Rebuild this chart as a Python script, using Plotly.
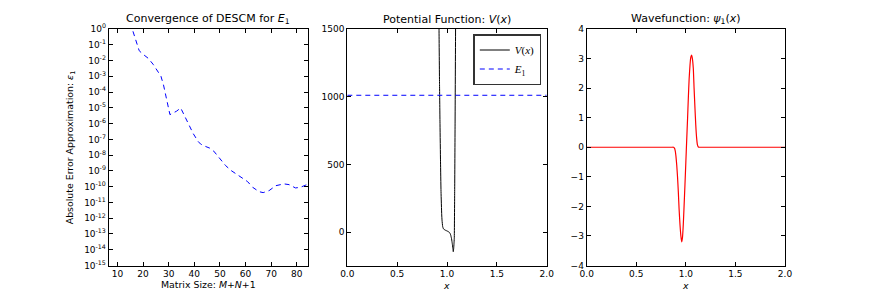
import plotly.graph_objects as go

# ---- Data ----
# Panel 1: convergence of DESCM for E1
conv_size = [15, 16, 17, 18, 18.5, 20, 22, 24, 26, 27, 28, 29, 30.5, 32, 33, 34.7,
             36.4, 38, 39.6, 41.5, 42.5, 44.5, 46, 47.6, 49.9, 52.2, 54.4, 56.3,
             58.3, 60.8, 62.8, 65.3, 66.9, 69.2, 71.8, 75, 77, 79.5, 81.4, 83.4, 84.2]
conv_err = [2.5, 0.83, 0.28, 0.078, 0.042, 0.025, 0.014, 5.6e-3, 1.6e-3, 1.0e-3,
            2.8e-4, 4.5e-5, 3.7e-6, 5.0e-6, 6.0e-6, 9.8e-6, 2.6e-6, 7.8e-7, 2.3e-7,
            7.4e-8, 5.0e-8, 3.5e-8, 2.8e-8, 1.8e-8, 5.8e-9, 2.2e-9, 1.05e-9, 6.5e-10,
            4.4e-10, 2.1e-10, 9.1e-11, 4.8e-11, 4.2e-11, 5.6e-11, 1.15e-10, 1.5e-10,
            1.35e-10, 8.3e-11, 9.1e-11, 1.3e-10, 1.4e-10]

# Panel 2: potential function and energy level
pot_x = [0.905, 0.91, 0.915, 0.92, 0.925, 0.93, 0.935, 0.94, 0.947, 0.95, 0.957,
         0.965, 0.98, 0.99, 1.0, 1.013, 1.025, 1.032, 1.037, 1.045, 1.05, 1.055,
         1.06, 1.063, 1.067, 1.07, 1.073, 1.077, 1.081, 1.086, 1.09]
pot_v = [3500, 2600, 2000, 1500, 1100, 792, 520, 300, 128, 90, 41,
         25, 17, 13, 10, 5, -2, -10, -20, -45, -69, -95,
         -125, -143, -120, -85, -44, 300, 800, 1500, 2200]
energy_e1 = 1011

# Panel 3: wavefunction psi_1
wave_x = [0.0, 0.4, 0.7, 0.82, 0.86, 0.875, 0.885, 0.893, 0.9, 0.908, 0.916, 0.924,
          0.932, 0.941, 0.95, 0.958, 0.966, 0.974, 0.982, 0.991, 1.0, 1.008, 1.017,
          1.025, 1.033, 1.042, 1.05, 1.058, 1.066, 1.075, 1.083, 1.092, 1.1, 1.109,
          1.117, 1.126, 1.135, 1.15, 1.2, 1.4, 1.7, 2.0]
wave_psi = [0, 0, 0, 0, 0, 0, -0.03, -0.12, -0.3, -0.6, -1.0, -1.5,
            -2.1, -2.62, -3.0, -3.2, -3.05, -2.62, -2.0, -1.27, -0.5, 0.19, 0.95,
            1.66, 2.3, 2.78, 3.05, 3.12, 3.0, 2.67, 2.0, 1.32, 0.75, 0.30,
            0.08, 0.01, 0, 0, 0, 0, 0, 0]

log_tick_exps = list(range(0, -16, -1))

# ---- Layout geometry ----
W, H = 872, 296
def px(x):
    return x / W
def py(y):
    return 1 - y / H

top, bot = 29, 265.5
panels = [(108.7, 307.5), (347.3, 546.7), (586.7, 785.0)]

TICK_FONT = dict(family="DejaVu Sans", size=9, color="black")
LABEL_FONT = dict(family="DejaVu Sans", size=9.4, color="black")

fig = go.Figure()

fig.add_trace(go.Scatter(x=conv_size, y=conv_err, mode="lines",
                         line=dict(color="#0000ff", width=1, dash="5px,4px"),
                         xaxis="x", yaxis="y", showlegend=False))

fig.add_trace(go.Scatter(x=pot_x, y=pot_v, mode="lines", name="<i>V</i>(<i>x</i>)",
                         line=dict(color="black", width=1, shape="spline", smoothing=0.4),
                         xaxis="x2", yaxis="y2", showlegend=True))
fig.add_trace(go.Scatter(x=[0, 2], y=[energy_e1, energy_e1], mode="lines",
                         name="<i>E</i><sub>1</sub>",
                         line=dict(color="#0000ff", width=1, dash="5px,4px"),
                         xaxis="x2", yaxis="y2", showlegend=True))

fig.add_trace(go.Scatter(x=wave_x, y=wave_psi, mode="lines",
                         line=dict(color="#ff0000", width=1.2, shape="spline", smoothing=0.5),
                         xaxis="x3", yaxis="y3", showlegend=False))

common = dict(showline=True, linecolor="black", linewidth=1, mirror="ticks",
              ticks="inside", ticklen=4, tickcolor="black", tickwidth=1,
              showgrid=False, zeroline=False, tickfont=TICK_FONT, automargin=False)

fig.update_layout(
    width=W, height=H,
    margin=dict(l=0, r=0, t=0, b=0),
    paper_bgcolor="white", plot_bgcolor="white",
    xaxis=dict(domain=[px(panels[0][0]), px(panels[0][1])], range=[6.6, 84.2],
               tickvals=list(range(10, 90, 10)), anchor="y", **common),
    yaxis=dict(domain=[py(bot), py(top)], type="log", range=[-15, 0],
               tickvals=[10.0 ** e for e in log_tick_exps],
               ticktext=["10<sup>%d</sup>" % e for e in log_tick_exps], anchor="x",
               **common),
    xaxis2=dict(domain=[px(panels[1][0]), px(panels[1][1])], range=[0, 2],
                tickvals=[0, 0.5, 1, 1.5, 2], tickformat=".1f", anchor="y2", **common),
    yaxis2=dict(domain=[py(bot), py(top)], range=[-245, 1500],
                tickvals=[0, 500, 1000, 1500], anchor="x2", **common),
    xaxis3=dict(domain=[px(panels[2][0]), px(panels[2][1])], range=[0, 2],
                tickvals=[0, 0.5, 1, 1.5, 2], tickformat=".1f", anchor="y3", **common),
    yaxis3=dict(domain=[py(bot), py(top)], range=[-4, 4],
                tickvals=list(range(-4, 5)), anchor="x3", **common),
    legend=dict(x=px(541.3), y=py(34), xanchor="right", yanchor="top",
                bordercolor="#333333", borderwidth=1.5, bgcolor="white",
                font=dict(family="Liberation Serif", size=11, color="black"),
                itemwidth=30, tracegroupgap=0),
    showlegend=True,
)

titles = ["Convergence of DESCM for <i>E</i><sub>1</sub>",
          "Potential Function: <i>V</i>(<i>x</i>)",
          "Wavefunction: <i>ψ</i><sub>1</sub>(<i>x</i>)"]
for (l, r), t in zip(panels, titles):
    fig.add_annotation(text=t, x=px((l + r) / 2), y=py(top - 1), xref="paper", yref="paper",
                       xanchor="center", yanchor="bottom", showarrow=False,
                       font=dict(family="DejaVu Sans", size=11, color="black"))

xlabels = ["Matrix Size: <i>M</i>+<i>N</i>+1", "<i>x</i>", "<i>x</i>"]
xlabel_y = [284.5, 285.5, 285.5]
for (l, r), t, yy in zip(panels, xlabels, xlabel_y):
    fig.add_annotation(text=t, x=px((l + r) / 2), y=py(yy), xref="paper", yref="paper",
                       xanchor="center", yanchor="middle", showarrow=False, font=LABEL_FONT)

fig.add_annotation(text="Absolute Error Approximation: <i>ε</i><sub>1</sub>",
                   x=px(70), y=py((top + bot) / 2), xref="paper", yref="paper",
                   xanchor="center", yanchor="middle", textangle=-90, showarrow=False,
                   font=LABEL_FONT)

fig.write_html("out.html", config={"displayModeBar": False},
               post_script="document.body.style.margin='0px';document.body.style.padding='0px';")
